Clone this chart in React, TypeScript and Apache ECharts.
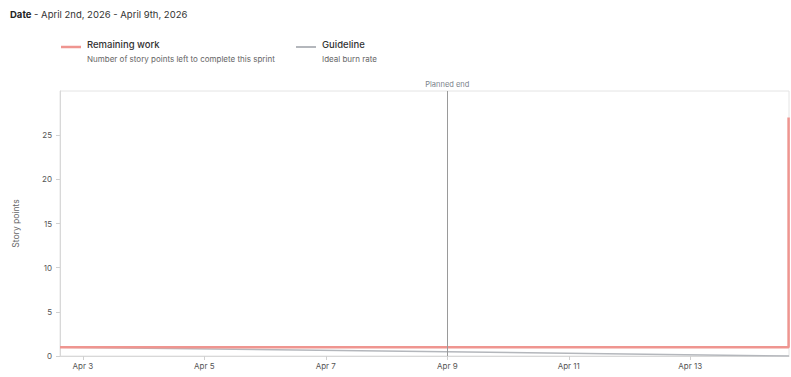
import React, { useEffect, useRef } from "react";
import * as echarts from "echarts";

// Sprint window and chart data
const sprintStart = "2026-04-02T15:00:00";
const plannedEnd = "2026-04-09T00:00:00";
const chartEnd = "2026-04-14T15:00:00";

const remainingTimes = ["2026-04-02T15:00:00", "2026-04-14T14:50:00", "2026-04-14T14:50:00"];
const remainingValues = [1, 1, 27];

const guideTimes = ["2026-04-02T15:00:00", "2026-04-14T15:00:00"];
const guideValues = [1, 0];

const xTickDates = ["2026-04-03T00:00:00", "2026-04-05T00:00:00", "2026-04-07T00:00:00", "2026-04-09T00:00:00", "2026-04-11T00:00:00", "2026-04-13T00:00:00"];
const yTicks = [0, 5, 10, 15, 20, 25];
const months = ["Jan", "Feb", "Mar", "Apr", "May", "Jun", "Jul", "Aug", "Sep", "Oct", "Nov", "Dec"];

const ts = (s: string) => new Date(s).getTime();

const FONT = "Inter, 'Noto Sans', sans-serif";
const RED = "#ef9590";
const GREY = "#b4b7bc";

export default function App() {
  const ref = useRef<HTMLDivElement>(null);

  useEffect(() => {
    if (!ref.current) return;
    const chart = echarts.init(ref.current, null, { renderer: "svg" });
    chart.setOption({
      animation: false,
      backgroundColor: "#ffffff",
      textStyle: { fontFamily: FONT },
      grid: {
        left: 60,
        right: 2,
        top: 91,
        bottom: 21,
        show: true,
        borderColor: "#e4e4e4",
        borderWidth: 1,
      },
      xAxis: {
        type: "value",
        min: ts(sprintStart),
        max: ts(chartEnd),
        splitLine: { show: false },
        axisLine: { show: true, lineStyle: { color: "#d8d8d8" } },
        axisTick: {
          show: true,
          customValues: xTickDates.map(ts),
          length: 4,
          lineStyle: { color: "#d0d0d0" },
        },
        axisLabel: {
          customValues: xTickDates.map(ts),
          color: "#555",
          fontSize: 8,
          margin: 6,
          fontFamily: FONT,
          formatter: (v: number) => {
            const d = new Date(v);
            return months[d.getMonth()] + " " + d.getDate();
          },
        },
      },
      yAxis: {
        type: "value",
        min: 0,
        max: 30,
        interval: 5,
        name: "Story points",
        nameLocation: "middle",
        nameGap: 40,
        nameTextStyle: { color: "#666", fontSize: 8.5, fontFamily: FONT },
        splitLine: { show: false },
        axisLine: { show: true, lineStyle: { color: "#d8d8d8" } },
        axisTick: { show: true, customValues: yTicks, length: 4, lineStyle: { color: "#d0d0d0" } },
        axisLabel: {
          customValues: yTicks,
          color: "#555",
          fontSize: 8,
          margin: 8,
          fontFamily: FONT,
        },
      },
      series: [
        {
          name: "Guideline",
          type: "line",
          data: guideTimes.map((t, i) => [ts(t), guideValues[i]]),
          showSymbol: false,
          lineStyle: { color: GREY, width: 1.5 },
          z: 2,
        },
        {
          name: "Remaining work",
          type: "line",
          data: remainingTimes.map((t, i) => [ts(t), remainingValues[i]]),
          showSymbol: false,
          lineStyle: { color: RED, width: 2.5 },
          z: 3,
          markLine: {
            silent: true,
            symbol: "none",
            lineStyle: { color: "#9a9a9a", width: 1, type: "solid" },
            label: {
              show: true,
              position: "end",
              formatter: "Planned end",
              color: "#7a7f8a",
              fontSize: 7.5,
              fontFamily: FONT,
              distance: 3,
            },
            data: [{ xAxis: ts(plannedEnd) }],
          },
        },
      ],
      graphic: [
        {
          type: "text",
          left: 10,
          top: 9,
          style: {
            text: "{b|Date} - April 2nd, 2026 - April 9th, 2026",
            fontFamily: FONT,
            fontSize: 9.5,
            fill: "#333",
            rich: { b: { fontWeight: "bold", fontSize: 9.5, fill: "#222", fontFamily: FONT } },
          },
        },
        { type: "line", shape: { x1: 61, y1: 47, x2: 81, y2: 47 }, style: { stroke: RED, lineWidth: 2.5 } },
        {
          type: "text",
          left: 87,
          top: 39,
          style: { text: "Remaining work", fontFamily: FONT, fontSize: 9.5, fontWeight: 500, fill: "#333" },
        },
        {
          type: "text",
          left: 87,
          top: 55,
          style: {
            text: "Number of story points left to complete this sprint",
            fontFamily: FONT,
            fontSize: 8,
            fill: "#666",
          },
        },
        { type: "line", shape: { x1: 296, y1: 47, x2: 316, y2: 47 }, style: { stroke: GREY, lineWidth: 2 } },
        {
          type: "text",
          left: 322,
          top: 39,
          style: { text: "Guideline", fontFamily: FONT, fontSize: 9.5, fontWeight: 500, fill: "#333" },
        },
        {
          type: "text",
          left: 322,
          top: 55,
          style: { text: "Ideal burn rate", fontFamily: FONT, fontSize: 8, fill: "#666" },
        },
      ],
    });
    return () => chart.dispose();
  }, []);

  return (
    <div
      ref={ref}
      style={{ position: "fixed", left: 0, top: 0, width: 791, height: 377, background: "#fff" }}
    />
  );
}
